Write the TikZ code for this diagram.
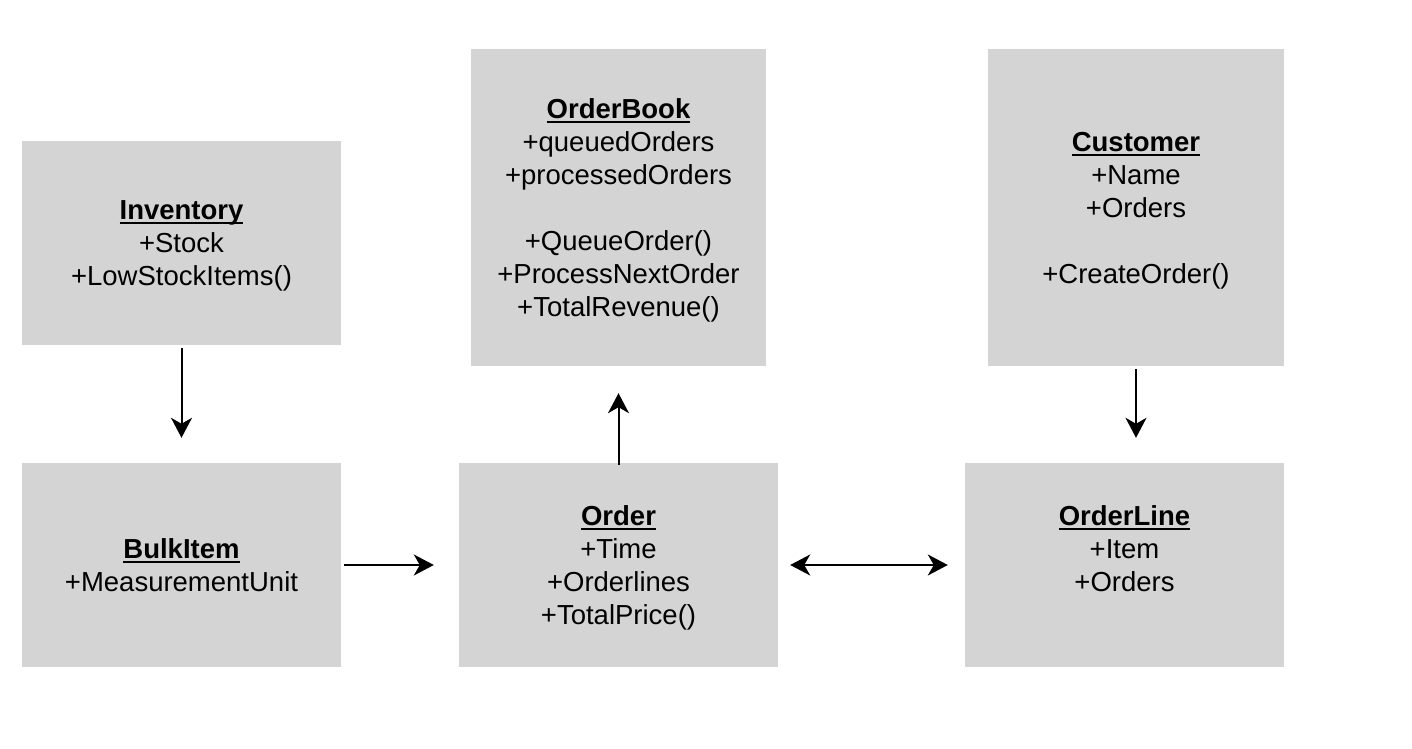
\documentclass[tikz,border=0pt]{standalone}
\usepackage{fontspec}
\setmainfont{Liberation Sans}
\usetikzlibrary{arrows.meta}
% bold class name with a heavier underline
\newcommand{\clsname}[1]{\setbox0\hbox{\textbf{#1}}\rlap{\rule[-4.5pt]{\wd0}{2pt}}\box0}
% last line without depth, so every block centres on its lines alone
\newcommand{\nodp}[1]{\raisebox{0pt}[\height][0pt]{#1}}
\tikzset{
  classbox/.style={rectangle, fill=boxgray, draw=none, inner sep=0pt,
    align=center, font=\fontsize{27.5}{33}\selectfont},
  link/.style={line width=2pt, -{Stealth[length=20pt,width=21pt,inset=6pt]}},
  biglink/.style={line width=2pt, {Stealth[length=20pt,width=21pt,inset=6pt]}-{Stealth[length=20pt,width=21pt,inset=6pt]}}
}
\definecolor{boxgray}{HTML}{D4D4D4}
\begin{document}
\begin{tikzpicture}[x=1pt,y=1pt]
\useasboundingbox[fill=white] (0,0) rectangle (1412,748);

\node[classbox, minimum width=319pt, minimum height=204pt] (inv) at (181.5,505)
  {\clsname{Inventory}\\+Stock\\\nodp{+LowStockItems()}};
\node[classbox, minimum width=295pt, minimum height=317pt] (ob) at (618.5,540.5)
  {\clsname{OrderBook}\\+queuedOrders\\+processedOrders\\~\\+QueueOrder()\\+ProcessNextOrder\\\nodp{+TotalRevenue()}};
\node[classbox, minimum width=296pt, minimum height=317pt] (cust) at (1136,540.5)
  {\clsname{Customer}\\+Name\\+Orders\\~\\\nodp{+CreateOrder()}};
\node[classbox, minimum width=319pt, minimum height=204pt] (bulk) at (181.5,183)
  {\clsname{BulkItem}\\+MeasurementUnit};
\node[classbox, minimum width=319pt, minimum height=204pt] (order) at (618.5,183)
  {\clsname{Order}\\+Time\\+Orderlines\\\nodp{+TotalPrice()}};
\node[classbox, minimum width=319pt, minimum height=204pt] (ol) at (1124.5,183)
  {\clsname{OrderLine}\\+Item\\+Orders\\~};

\draw[link, shorten <=3pt, shorten >=25pt] (inv) -- (bulk);
\draw[link, shorten <=-2pt, shorten >=27pt] (order.north) -- (ob.south);
\draw[link, shorten <=3pt, shorten >=25pt] (cust.south) -- (cust.south |- ol.north);
\draw[link, shorten <=3pt, shorten >=25pt] (bulk.east) -- (order.west);
\draw[biglink, shorten <=12pt, shorten >=17pt] (order.east) -- (ol.west);
\end{tikzpicture}
\end{document}
